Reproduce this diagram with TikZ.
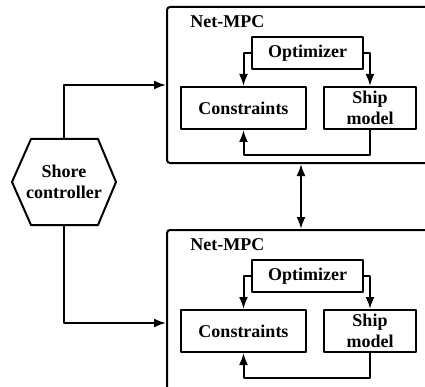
\documentclass[tikz,border=0pt]{standalone}
\usepackage{fontspec}
\setmainfont{Liberation Serif}
\usetikzlibrary{arrows.meta}
\begin{document}
\begin{tikzpicture}[x=1pt,y=1pt,>={Latex[length=12pt,width=9pt]},line width=2pt,line join=round,
  font=\fontsize{18}{21}\selectfont\bfseries,
  blk/.style={draw,align=center,inner sep=0pt},
  mpc/.style={draw,rounded corners=3pt,minimum width=268,minimum height=#1}]
\clip (0,0) rectangle (425,386);
% two Net-MPC frames
\node[mpc=156] (mpcA) at (301,301) {};
\node[mpc=186] (mpcB) at (301,63) {};
\foreach \u/\yo/\yc in {A/333/278,B/110/55}{
  \node[anchor=west] (lbl\u) at ([shift={(20,-16)}]mpc\u.north west) {Net-MPC};
  \node[blk,minimum width=111,minimum height=32] (opt\u) at (307.5,\yo) {Optimizer};
  \node[blk,minimum width=125,minimum height=42] (cons\u) at (243.5,\yc) {Constraints};
  \node[blk,minimum width=92,minimum height=42] (ship\u) at (370,\yc) {Ship\\model};
  \draw[->] (opt\u.west) -| (cons\u.north);
  \draw[->] (opt\u.east) -| (ship\u.north);
  \draw[->] (ship\u.south) -- ++(0,-25) -| (cons\u.south);
}
% shore side
\node[minimum width=102,minimum height=84,align=center,inner sep=0pt] (shore) at (64,204) {Shore\\controller};
\draw (shore.west) -- ([xshift=19]shore.north west) -- ([xshift=-18]shore.north east) -- (shore.east)
  -- ([xshift=-18]shore.south east) -- ([xshift=19]shore.south west) -- cycle;
\draw[->] (shore.north) |- (mpcA.west);
\draw[->] (shore.south) |- (mpcB.west);
\draw[<->] (mpcA.south) -- (mpcB.north);
\end{tikzpicture}
\end{document}
